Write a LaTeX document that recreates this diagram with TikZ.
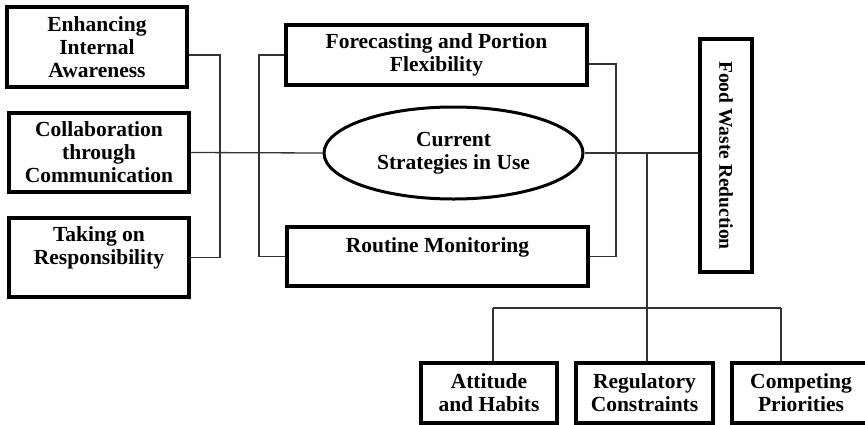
\documentclass[tikz,border=0pt]{standalone}
\usepackage{fontspec}
\setmainfont{Liberation Serif}
\usetikzlibrary{shapes.geometric,calc}
\begin{document}
\begin{tikzpicture}[x=1pt,y=-1pt,
  box/.style={draw=black,line width=3.2pt,fill=white,rectangle,inner sep=0pt,
    align=center,font=\bfseries\fontsize{21.5}{23}\selectfont},
  oval/.style={draw=black,line width=3pt,fill=white,ellipse,inner sep=0pt,
    align=center,font=\bfseries\fontsize{21.5}{23}\selectfont},
  link/.style={draw=black!80,line width=1.3pt}]
\useasboundingbox (0,0) rectangle (865,424);
\clip (0,0) rectangle (865,424);

% left column
\node[box,minimum width=180,minimum height=80] (aware) at (97,47)
  {Enhancing\\Internal\\Awareness};
\node[box,minimum width=180,minimum height=79] (collab) at (99,152.5)
  {Collaboration\\through\\Communication};
\node[box,minimum width=180,minimum height=79] (resp) at (99,257.5)
  {Taking on\\Responsibility\\\mbox{}};

% middle column
\node[box,minimum width=301,minimum height=60] (fcast) at (436.5,55)
  {Forecasting and Portion\\Flexibility};
\node[oval,minimum width=259,minimum height=92] (curr) at (453.5,153)
  {Current\\Strategies in Use};
\node[box,minimum width=301,minimum height=59] (rout) at (437.5,256.5)
  {Routine Monitoring\\\mbox{}};

% outcome
\node[box,minimum width=52,minimum height=233] (fwr) at (726,155.5) {};
\node[rotate=-90,font=\bfseries\fontsize{19.5}{21}\selectfont] (fwrt) at (fwr.center)
  {Food Waste Reduction};

% barriers
\node[box,minimum width=136,minimum height=60] (att) at (489,393)
  {Attitude\\and Habits};
\node[box,minimum width=137,minimum height=60] (reg) at (644.5,393)
  {Regulatory\\Constraints};
\node[box,minimum width=138,minimum height=60] (comp) at (801,393)
  {Competing\\Priorities};

% junction points
\coordinate (lb) at (220,0);
\coordinate (mb) at (259,0);
\coordinate (rb) at (616,0);
\coordinate (jn) at (647,153);
\coordinate (hb) at (647,308);
\coordinate (attj) at (493,308);
\coordinate (compj) at (781,308);

% connectors
\draw[link] (aware.east |- fcast.west) -| (lb |- resp.east) -- (resp.east);
\draw[link] (collab.east) -- (curr.west);
\draw[link] (fcast.west) -| (mb |- rout.west) -- (rout.west);
\draw[link] ($(fcast.east)+(0,9)$) -| (rb |- rout.east) -- (rout.east);
\draw[link] (curr.east) -- (curr.east -| fwr.west);
\draw[link] (jn) -- (hb) -- (hb |- reg.north);
\draw[link] (attj) -- (compj);
\draw[link] (attj) -- (attj |- att.north);
\draw[link] (compj) -- (compj |- comp.north);
\end{tikzpicture}
\end{document}
